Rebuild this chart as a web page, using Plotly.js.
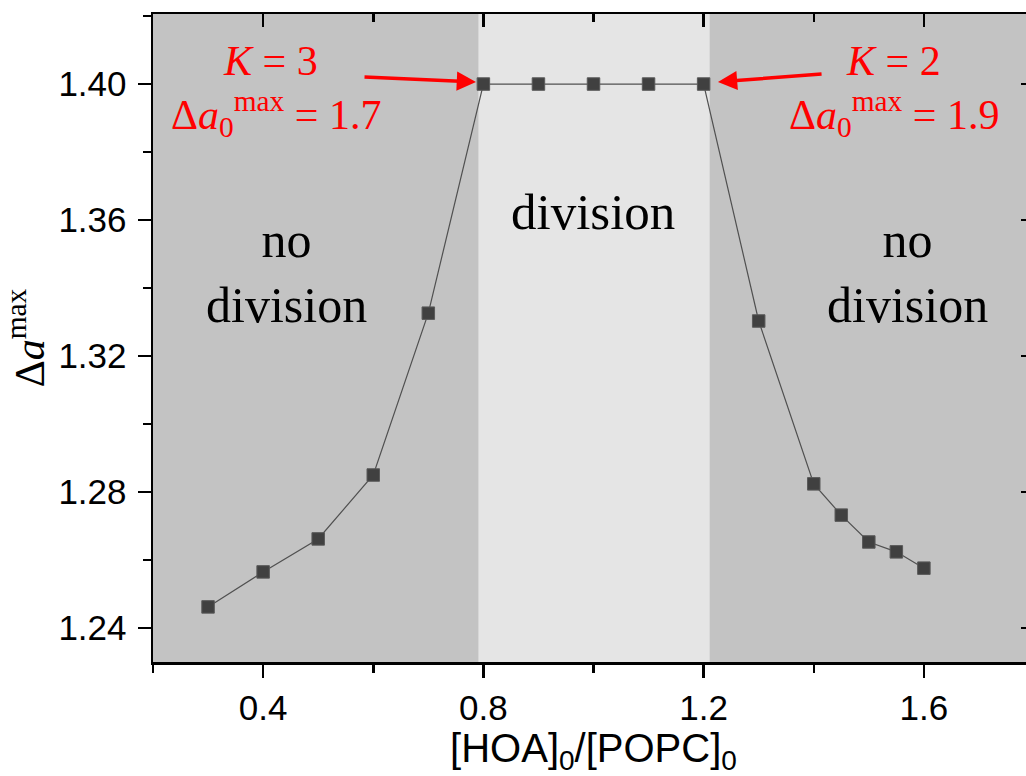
<!DOCTYPE html>
<html>
<head>
<meta charset="utf-8">
<script src="https://cdn.plot.ly/plotly-3.0.1.min.js"></script>
<style>
  html, body { margin: 0; padding: 0; overflow: hidden; background: #ffffff; }
  #chart { width: 1060px; height: 776px; }
</style>
</head>
<body>
<div id="chart"></div>
<script>
// ---- data ----
const ratio = [0.3, 0.4, 0.5, 0.6, 0.7, 0.8, 0.9, 1.0, 1.1, 1.2, 1.3, 1.4, 1.45, 1.5, 1.55, 1.6];
const deltaAmax = [1.2462, 1.2565, 1.2662, 1.2850, 1.3326, 1.400, 1.400, 1.400, 1.400, 1.400,
                   1.3303, 1.2824, 1.2732, 1.2653, 1.2624, 1.2576];
const divisionRange = [0.791, 1.211];
const xTickVals = [0.4, 0.8, 1.2, 1.6];
const yTickVals = [1.24, 1.28, 1.32, 1.36, 1.40];
const regionLabels = ['no<br>division', 'division', 'no<br>division'];
const kLabels = ['<i>K</i> = 3', '<i>K</i> = 2'];
const a0Labels = ['Δ<i>a</i><sub>0</sub><sup>max</sup> = 1.7', 'Δ<i>a</i><sub>0</sub><sup>max</sup> = 1.9'];

const serif = '"Liberation Serif", "Times New Roman", serif';
const sans = '"Liberation Sans", Arial, sans-serif';
const red = '#ff0000';

const traces = [
  {
    x: ratio, y: deltaAmax, type: 'scatter', mode: 'lines+markers',
    line: { color: '#505050', width: 1.2 },
    marker: { symbol: 'square', size: 12.5, color: '#404040', line: { color: '#5a5a5a', width: 1 } },
    hoverinfo: 'x+y', showlegend: false
  },
  {
    x: ratio, y: deltaAmax, xaxis: 'x2', yaxis: 'y2', type: 'scatter', mode: 'none',
    hoverinfo: 'skip', showlegend: false
  }
];

const xr = [0.2, 1.8];
const yr = [1.23, 1.4206];

const annotations = [
  { x: 0.442, y: 1.3445, xref: 'x', yref: 'y', text: regionLabels[0], showarrow: false,
    font: { family: serif, size: 50, color: '#000' } },
  { x: 0.999, y: 1.3625, xref: 'x', yref: 'y', text: regionLabels[1], showarrow: false,
    font: { family: serif, size: 51, color: '#000' } },
  { x: 1.571, y: 1.3445, xref: 'x', yref: 'y', text: regionLabels[2], showarrow: false,
    font: { family: serif, size: 50, color: '#000' } },
  { x: 0.414, y: 1.4068, xref: 'x', yref: 'y', text: kLabels[0], showarrow: false,
    font: { family: serif, size: 42, color: red } },
  { x: 0.425, y: 1.3912, xref: 'x', yref: 'y', text: a0Labels[0], showarrow: false,
    font: { family: serif, size: 42, color: red } },
  { x: 1.544, y: 1.4068, xref: 'x', yref: 'y', text: kLabels[1], showarrow: false,
    font: { family: serif, size: 42, color: red } },
  { x: 1.546, y: 1.3912, xref: 'x', yref: 'y', text: a0Labels[1], showarrow: false,
    font: { family: serif, size: 42, color: red } },
  // arrows
  { x: 0.7866, y: 1.4006, ax: 0.5814, ay: 1.4021, xref: 'x', yref: 'y', axref: 'x', ayref: 'y',
    text: '', showarrow: true, arrowhead: 2, arrowsize: 1.1, arrowwidth: 3.5, arrowcolor: red },
  { x: 1.226, y: 1.4006, ax: 1.4169, ay: 1.4030, xref: 'x', yref: 'y', axref: 'x', ayref: 'y',
    text: '', showarrow: true, arrowhead: 2, arrowsize: 1.1, arrowwidth: 3.5, arrowcolor: red }
];

const shapes = [
  { type: 'rect', xref: 'x', yref: 'paper', x0: divisionRange[0], x1: divisionRange[1], y0: 0, y1: 1,
    fillcolor: '#e5e5e5', line: { width: 0 }, layer: 'below' }
];

const axisCommon = {
  showline: true, linecolor: '#000', linewidth: 2.5, showgrid: false, zeroline: false,
  tickcolor: '#000', tickwidth: 2.5, ticklen: 13
};

const layout = {
  width: 1060, height: 776,
  margin: { l: 153, r: 26, t: 14, b: 114, pad: 0 },
  paper_bgcolor: '#ffffff', plot_bgcolor: '#c3c3c3',
  xaxis: Object.assign({}, axisCommon, {
    range: xr, ticks: 'outside', tickmode: 'array', tickvals: xTickVals, tickformat: '.1f',
    tickfont: { family: sans, size: 35, color: '#000' },
    minor: { ticks: 'outside', dtick: 0.2, tick0: 0.2, ticklen: 8, tickwidth: 2.5, tickcolor: '#000', showgrid: false },
    title: { text: '[HOA]<sub>0</sub>/[POPC]<sub>0</sub>', font: { family: sans, size: 40, color: '#000' }, standoff: 4 }
  }),
  xaxis2: Object.assign({}, axisCommon, {
    range: xr, overlaying: 'x', side: 'top', ticks: 'inside', tickmode: 'array', tickvals: xTickVals,
    showticklabels: false,
    minor: { ticks: 'inside', dtick: 0.2, tick0: 0.2, ticklen: 8, tickwidth: 2.5, tickcolor: '#000', showgrid: false }
  }),
  yaxis: Object.assign({}, axisCommon, {
    range: yr, ticks: 'outside', tickmode: 'array', tickvals: yTickVals, tickformat: '.2f',
    tickfont: { family: sans, size: 35, color: '#000' }, ticklabelstandoff: 4,
    minor: { ticks: 'outside', dtick: 0.02, tick0: 1.22, ticklen: 8, tickwidth: 2.5, tickcolor: '#000', showgrid: false },
    title: { text: 'Δ<i>a</i><sup>max</sup>', font: { family: serif, size: 42, color: '#000' }, standoff: 6 }
  }),
  yaxis2: Object.assign({}, axisCommon, {
    range: yr, overlaying: 'y', side: 'right', ticks: 'inside', tickmode: 'array', tickvals: yTickVals,
    showticklabels: false,
    minor: { ticks: 'inside', dtick: 0.02, tick0: 1.22, ticklen: 8, tickwidth: 2.5, tickcolor: '#000', showgrid: false }
  }),
  shapes: shapes,
  annotations: annotations,
  showlegend: false
};

Plotly.newPlot('chart', traces, layout, { displayModeBar: false, staticPlot: true });
</script>
</body>
</html>
